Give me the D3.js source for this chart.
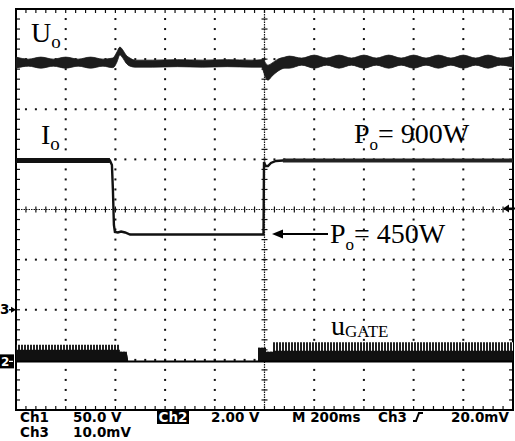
<!DOCTYPE html>
<html>
<head>
<meta charset="utf-8">
<script src="https://cdn.jsdelivr.net/npm/d3@7"></script>
<style>
  html, body { margin: 0; padding: 0; background: #fff; }
  svg { display: block; }
</style>
</head>
<body>
<script>
// ---------- data (time in ms, amplitude in screen divisions) ----------
const timeTicks = d3.range(-1000, 1001, 200);     // 200 ms / div
const divTicks  = d3.range(-4, 5, 1);

// Output voltage U_o: noisy band (upper / lower edge)
const uoT    = [-1000,-950,-900,-850,-800,-750,-700,-650,-612,-606,-594,-582,-570,-557,-541,-521,-450,-350,-250,-150,-50,-12,-6,2,14,30,54,82,100,150,200,250,300,350,400,450,500,550,600,650,700,750,800,850,900,950,1000];
const uoHigh = [3.04,3.00,3.04,3.00,3.04,3.00,3.04,3.00,3.02,3.04,3.14,3.24,3.18,3.08,3.02,2.98,2.98,2.99,2.98,2.99,2.98,2.99,3.02,2.94,2.88,2.92,3.00,3.04,3.06,3.02,3.08,3.02,3.08,3.02,3.08,3.02,3.08,3.02,3.08,3.02,3.08,3.02,3.08,3.02,3.08,3.02,3.06];
const uoLow  = [2.82,2.86,2.82,2.86,2.82,2.86,2.82,2.86,2.83,2.84,2.94,3.08,3.02,2.92,2.86,2.84,2.84,2.85,2.84,2.85,2.84,2.84,2.78,2.66,2.58,2.66,2.76,2.82,2.82,2.88,2.82,2.88,2.82,2.88,2.82,2.88,2.82,2.88,2.82,2.88,2.82,2.88,2.82,2.88,2.82,2.88,2.84];

// Output current I_o
const ioT = [-1000,-622,-614,-610,-606,-602,-590,-577,-561,-541,-4,-2,4,14,26,46,74,1000];
const ioV = [0.978,0.978,0.888,0.389,-0.309,-0.449,-0.459,-0.439,-0.459,-0.499,-0.499,0.948,0.868,0.868,0.928,0.968,0.978,0.978];

// Gate signal u_GATE: pulse-train envelope
const gateT     = [-1000,-582,-582,-555,-548,-26,-26,6,6,34,34,1000];
const gateTop   = [-2.70,-2.70,-2.84,-2.84,-3.03,-3.03,-2.76,-2.76,-2.84,-2.84,-2.65,-2.65];
const gateSolid = [-2.80,-2.80,-2.84,-2.84,-3.03,-3.03,-2.76,-2.76,-2.84,-2.84,-2.82,-2.82];
const gateBase  = -3.03;

// readouts / labels
const readoutLine1 = ["Ch1", "50.0 V", "Ch2", "2.00 V", "M 200ms", "Ch3", "20.0mV"];
const readoutLine2 = ["Ch3", "10.0mV"];
const markerLabels = ["3", "2"];
const traceLabels  = { uo: ["U", "o"], io: ["I", "o"], p900: ["P", "o", "= 900W"], p450: ["P", "o", "= 450W"], gate: ["u", "GATE"] };

// ---------- drawing ----------
const W = 515, H = 441;
const svg = d3.select("body").append("svg").attr("width", W).attr("height", H);
const x = d3.scaleLinear().domain([-1000, 1000]).range([16, 513]);
const y = d3.scaleLinear().domain([-4, 4]).range([410, 9]);

const defs = svg.append("defs");
const pat = defs.append("pattern").attr("id", "hatch").attr("patternUnits", "userSpaceOnUse")
  .attr("width", 3).attr("height", 4);
pat.append("rect").attr("width", 3).attr("height", 4).attr("fill", "#fff");
pat.append("rect").attr("width", 2).attr("height", 4).attr("fill", "#222");

const minorX = d3.range(-1000, 1000.1, 40);
const minorY = d3.range(-4, 4.001, 0.2);

const grid = svg.append("g");
// dotted major grid lines
timeTicks.filter(t => t !== 0 && Math.abs(t) !== 1000).forEach(t => {
  minorY.forEach(v => grid.append("rect").attr("x", x(t) - 1).attr("y", y(v) - 1).attr("width", 2).attr("height", 2).attr("fill", "#111"));
});
divTicks.filter(v => v !== 0 && Math.abs(v) !== 4).forEach(v => {
  minorX.forEach(t => grid.append("rect").attr("x", x(t) - 1).attr("y", y(v) - 1).attr("width", 2).attr("height", 2).attr("fill", "#111"));
});
// center cross lines with ticks
grid.append("line").attr("x1", x(0)).attr("x2", x(0)).attr("y1", y(4)).attr("y2", y(-4))
  .attr("stroke", "#111").attr("stroke-width", 1.2).attr("stroke-dasharray", "1.5,1");
grid.append("line").attr("x1", x(-1000)).attr("x2", x(1000)).attr("y1", y(0)).attr("y2", y(0))
  .attr("stroke", "#111").attr("stroke-width", 1.2).attr("stroke-dasharray", "1.5,1");
minorY.forEach(v => grid.append("line").attr("x1", x(0) - 3).attr("x2", x(0) + 3).attr("y1", y(v)).attr("y2", y(v)).attr("stroke", "#111").attr("stroke-width", 1.2));
minorX.forEach(t => grid.append("line").attr("x1", x(t)).attr("x2", x(t)).attr("y1", y(0) - 3).attr("y2", y(0) + 3).attr("stroke", "#111").attr("stroke-width", 1.2));
// border ticks
minorY.forEach(v => {
  grid.append("line").attr("x1", x(-1000)).attr("x2", x(-1000) + 4).attr("y1", y(v)).attr("y2", y(v)).attr("stroke", "#111").attr("stroke-width", 1.2);
  grid.append("line").attr("x1", x(1000) - 4).attr("x2", x(1000)).attr("y1", y(v)).attr("y2", y(v)).attr("stroke", "#111").attr("stroke-width", 1.2);
});
minorX.forEach(t => {
  grid.append("line").attr("x1", x(t)).attr("x2", x(t)).attr("y1", y(4)).attr("y2", y(4) + 4).attr("stroke", "#111").attr("stroke-width", 1.2);
  grid.append("line").attr("x1", x(t)).attr("x2", x(t)).attr("y1", y(-4) - 4).attr("y2", y(-4)).attr("stroke", "#111").attr("stroke-width", 1.2);
});
// frame
svg.append("rect").attr("x", x(-1000)).attr("y", y(4)).attr("width", x(1000) - x(-1000)).attr("height", y(-4) - y(4))
  .attr("fill", "none").attr("stroke", "#000").attr("stroke-width", 2);

// ---- traces ----
const tr = svg.append("g");
// U_o band
const uoData = uoT.map((t, i) => ({ t, hi: uoHigh[i], lo: uoLow[i] }));
tr.append("path").datum(uoData)
  .attr("d", d3.area().x(d => x(d.t)).y0(d => y(d.lo)).y1(d => y(d.hi)).curve(d3.curveMonotoneX))
  .attr("fill", "#1c1c1c").attr("stroke", "#1c1c1c").attr("stroke-width", 0.8);

// I_o
const ioData = ioT.map((t, i) => ({ t, v: ioV[i] }));
const ioLine = d3.line().x(d => x(d.t)).y(d => y(d.v));
tr.append("path").datum(ioData).attr("d", ioLine).attr("fill", "none").attr("stroke", "#111").attr("stroke-width", 2.4);
tr.append("path").datum(ioData.filter(d => d.t <= -622)).attr("d", ioLine).attr("fill", "none").attr("stroke", "#111").attr("stroke-width", 5);
tr.append("path").datum(ioData.filter(d => d.t >= 74)).attr("d", ioLine).attr("fill", "none").attr("stroke", "#222").attr("stroke-width", 4);

// gate
const gData = gateT.map((t, i) => ({ t, top: gateTop[i], solid: gateSolid[i] }));
tr.append("path").datum(gData)
  .attr("d", d3.area().x(d => x(d.t)).y0(y(gateBase)).y1(d => y(d.top)))
  .attr("fill", "url(#hatch)");
tr.append("path").datum(gData)
  .attr("d", d3.area().x(d => x(d.t)).y0(y(gateBase)).y1(d => y(d.solid)))
  .attr("fill", "#111");
tr.append("line").attr("x1", x(-1000)).attr("x2", x(1000)).attr("y1", y(gateBase)).attr("y2", y(gateBase))
  .attr("stroke", "#000").attr("stroke-width", 2);

// ---- labels (serif, with subscripts as tspans) ----
const serif = "'Liberation Serif', 'Times New Roman', serif";
function subLabel(parts, xx, yy, subSize, subDy, restDx) {
  const t = svg.append("text").attr("x", xx).attr("y", yy).attr("font-family", serif).attr("font-size", 28).attr("fill", "#000");
  t.append("tspan").text(parts[0]);
  t.append("tspan").attr("font-size", subSize).attr("dy", subDy).text(parts[1]);
  if (parts[2]) t.append("tspan").attr("dy", -subDy).attr("dx", restDx).text(parts[2]);
  return t;
}
subLabel(traceLabels.uo, 31, 42, 19, 6);
subLabel(traceLabels.io, 41, 144, 19, 6);
subLabel(traceLabels.p900, 354, 143, 17, 7, 0);
subLabel(traceLabels.p450, 330, 243, 17, 7, 0);
subLabel(traceLabels.gate, 331, 335, 17, 2);

// arrow to 450W
svg.append("line").attr("x1", 278).attr("x2", 328).attr("y1", 234).attr("y2", 234).attr("stroke", "#000").attr("stroke-width", 2);
svg.append("path").attr("d", "M272,234 L283,229.5 L283,238.5 Z").attr("fill", "#000");

// ---- readouts (bold sans) ----
const mono = "'DejaVu Sans', sans-serif";
function ro(txt, xx, yy, anchor) {
  return svg.append("text").attr("x", xx).attr("y", yy).attr("font-family", mono).attr("font-weight", "bold")
    .attr("font-size", 13.5).attr("text-anchor", anchor || "start").attr("fill", "#000").text(txt);
}
ro(readoutLine1[0], 20, 422);
ro(readoutLine1[1], 73, 422);
svg.append("rect").attr("x", 157).attr("y", 411).attr("width", 32).attr("height", 13).attr("fill", "#000");
ro(readoutLine1[2], 173, 422, "middle").attr("fill", "#fff");
ro(readoutLine1[3], 211, 422);
ro(readoutLine1[4], 292, 422);
ro(readoutLine1[5], 378, 422);
svg.append("path").attr("d", "M413,421 L416,421 L419,413 L423,413").attr("fill", "none").attr("stroke", "#000").attr("stroke-width", 2);
ro(readoutLine1[6], 451, 422);
ro(readoutLine2[0], 20, 437);
ro(readoutLine2[1], 73, 437);

// ---- channel markers ----
ro(markerLabels[0], 0, 314);
svg.append("line").attr("x1", 9).attr("x2", 14).attr("y1", y(-2)).attr("y2", y(-2)).attr("stroke", "#000").attr("stroke-width", 1.5);
svg.append("path").attr("d", `M16,${y(-2)} L11,${y(-2) - 3} L11,${y(-2) + 3} Z`).attr("fill", "#000");
svg.append("rect").attr("x", 0).attr("y", y(gateBase) - 7).attr("width", 14).attr("height", 14).attr("fill", "#000");
svg.append("text").attr("x", 1).attr("y", y(gateBase) + 4.5).attr("font-family", mono).attr("font-weight", "bold").attr("font-size", 12).attr("fill", "#fff").text(markerLabels[1]);
svg.append("line").attr("x1", 9).attr("x2", 13).attr("y1", y(gateBase)).attr("y2", y(gateBase)).attr("stroke", "#fff").attr("stroke-width", 1.2);
// trigger marker on the right
svg.append("line").attr("x1", 506).attr("x2", 515).attr("y1", y(0) - 1).attr("y2", y(0) - 1).attr("stroke", "#000").attr("stroke-width", 2);
svg.append("path").attr("d", `M503,${y(0) - 1} L509,${y(0) - 5} L509,${y(0) + 3} Z`).attr("fill", "#000");
</script>
</body>
</html>
